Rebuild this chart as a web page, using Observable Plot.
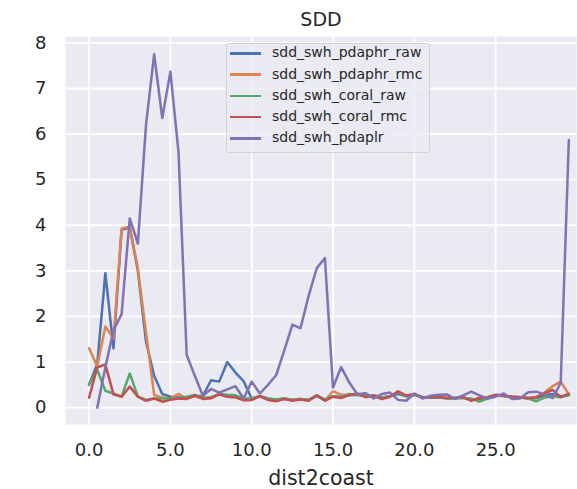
<!DOCTYPE html>
<html><head><meta charset="utf-8">
<script src="https://cdn.jsdelivr.net/npm/d3@7"></script>
<script src="https://cdn.jsdelivr.net/npm/@observablehq/plot@0.6"></script>
<style>
body{margin:0;background:#fff;}
#wrap{position:relative;width:577px;height:489px;overflow:hidden;}
#legend{position:absolute;left:226px;top:43px;width:202px;height:108px;background:rgba(234,234,242,0.8);border:1px solid rgba(204,204,204,0.8);border-radius:3px;font-family:"DejaVu Sans";font-size:14px;color:#262626;}
#legend .h{position:absolute;left:3px;width:31px;height:2.5px;}
#legend .t{position:absolute;left:45px;line-height:16px;white-space:nowrap;}
</style></head><body><div id="wrap"></div>
<script>
const dist2coast = [0,0.5,1,1.5,2,2.5,3,3.5,4,4.5,5,5.5,6,6.5,7,7.5,8,8.5,9,9.5,10,10.5,11,11.5,12,12.5,13,13.5,14,14.5,15,15.5,16,16.5,17,17.5,18,18.5,19,19.5,20,20.5,21,21.5,22,22.5,23,23.5,24,24.5,25,25.5,26,26.5,27,27.5,28,28.5,29,29.5];

const sdd_swh_pdaphr_raw = [0.5,0.95,2.95,1.3,3.9,3.95,3.0,1.45,0.7,0.3,0.24,0.22,0.22,0.25,0.26,0.6,0.57,1.0,0.77,0.58,0.2,0.25,0.2,0.17,0.2,0.17,0.19,0.17,0.25,0.18,0.25,0.24,0.27,0.28,0.25,0.27,0.22,0.25,0.3,0.25,0.28,0.23,0.22,0.22,0.21,0.21,0.22,0.17,0.19,0.22,0.27,0.26,0.24,0.23,0.2,0.21,0.27,0.3,0.25,0.28];

const sdd_swh_pdaphr_rmc = [1.3,0.9,1.78,1.52,3.93,3.97,3.05,1.65,0.28,0.22,0.2,0.3,0.2,0.25,0.2,0.2,0.3,0.24,0.23,0.17,0.17,0.25,0.17,0.15,0.2,0.17,0.18,0.16,0.27,0.16,0.36,0.28,0.28,0.3,0.24,0.26,0.2,0.25,0.35,0.27,0.29,0.23,0.23,0.23,0.21,0.21,0.23,0.16,0.21,0.23,0.28,0.26,0.24,0.23,0.21,0.23,0.33,0.47,0.57,0.29];

const sdd_swh_coral_raw = [0.51,0.83,0.37,0.31,0.24,0.75,0.24,0.17,0.2,0.2,0.2,0.2,0.24,0.28,0.22,0.23,0.3,0.28,0.27,0.2,0.2,0.25,0.2,0.18,0.2,0.17,0.19,0.17,0.27,0.17,0.25,0.23,0.3,0.28,0.27,0.25,0.21,0.25,0.33,0.25,0.28,0.22,0.22,0.22,0.2,0.2,0.21,0.2,0.13,0.2,0.27,0.25,0.24,0.22,0.2,0.14,0.22,0.25,0.23,0.27];

const sdd_swh_coral_rmc = [0.22,0.88,0.95,0.29,0.24,0.46,0.24,0.15,0.2,0.13,0.17,0.2,0.19,0.27,0.19,0.21,0.29,0.24,0.23,0.16,0.17,0.25,0.17,0.14,0.19,0.15,0.18,0.15,0.27,0.15,0.24,0.21,0.28,0.31,0.23,0.26,0.19,0.24,0.36,0.26,0.3,0.23,0.23,0.23,0.21,0.21,0.23,0.15,0.21,0.23,0.28,0.26,0.24,0.23,0.21,0.23,0.31,0.39,0.23,0.3];

const sdd_swh_pdaplr = [null,0.0,0.88,1.7,2.05,4.15,3.6,6.2,7.75,6.35,7.37,5.6,1.16,0.7,0.26,0.41,0.33,0.4,0.47,0.2,0.57,0.31,0.5,0.71,1.25,1.82,1.74,2.45,3.06,3.28,0.44,0.89,0.55,0.29,0.32,0.2,0.3,0.33,0.17,0.15,0.31,0.2,0.26,0.28,0.29,0.19,0.27,0.35,0.27,0.2,0.24,0.31,0.19,0.2,0.34,0.35,0.29,0.21,0.54,5.87];

const seriesNames = ["sdd_swh_pdaphr_raw","sdd_swh_pdaphr_rmc","sdd_swh_coral_raw","sdd_swh_coral_rmc","sdd_swh_pdaplr"];
const seriesValues = [sdd_swh_pdaphr_raw,sdd_swh_pdaphr_rmc,sdd_swh_coral_raw,sdd_swh_coral_rmc,sdd_swh_pdaplr];
const colors = ["#4c72b0","#dd8452","#55a868","#c44e52","#8172b3"];
const xTicks = [0,5,10,15,20,25];
const yTicks = [0,1,2,3,4,5,6,7,8];
const titleText = "SDD";
const xLabel = "dist2coast";

const table = [];
seriesNames.forEach((name, k) => {
  dist2coast.forEach((x, i) => {
    const v = seriesValues[k][i];
    table.push({series: name, x, y: v == null ? NaN : v});
  });
});

const chart = Plot.plot({
  width: 577,
  height: 489,
  marginLeft: 65,
  marginRight: 1,
  marginTop: 36,
  marginBottom: 65,
  style: {fontFamily: "DejaVu Sans", fontSize: "18px", color: "#262626", background: "#fff"},
  x: {domain: [-1.45, 29.97]},
  y: {domain: [-0.37, 8.14]},
  color: {domain: seriesNames, range: colors},
  marks: [
    Plot.frame({fill: "#eaeaf2", stroke: null}),
    Plot.gridX(xTicks, {stroke: "#fff", strokeOpacity: 1, strokeWidth: 1.8}),
    Plot.gridY(yTicks, {stroke: "#fff", strokeOpacity: 1, strokeWidth: 1.8}),
    Plot.axisX(xTicks, {tickFormat: d3.format(".1f"), tickSize: 0, tickPadding: 19, fontSize: 18, label: null}),
    Plot.axisY(yTicks, {tickSize: 0, tickPadding: 19, fontSize: 18, label: null}),
    Plot.line(table, {x: "x", y: "y", z: "series", stroke: "series", strokeWidth: 2.5}),
    Plot.text([titleText], {frameAnchor: "top", dy: -11, lineAnchor: "bottom", fontSize: 19, fill: "#262626"}),
    Plot.text([xLabel], {frameAnchor: "bottom", dy: 60, lineAnchor: "bottom", fontSize: 20.5, fill: "#262626"})
  ]
});

const wrap = document.getElementById("wrap");
wrap.appendChild(chart);

const legend = document.createElement("div");
legend.id = "legend";
const rowY = [9.3, 30.5, 51.8, 73.1, 94.4];
seriesNames.forEach((name, k) => {
  const h = document.createElement("div");
  h.className = "h";
  h.style.top = (rowY[k] - 1.25) + "px";
  h.style.background = colors[k];
  legend.appendChild(h);
  const t = document.createElement("div");
  t.className = "t";
  t.style.top = (rowY[k] - 9) + "px";
  t.textContent = name;
  legend.appendChild(t);
});
wrap.appendChild(legend);
</script>
</body></html>
